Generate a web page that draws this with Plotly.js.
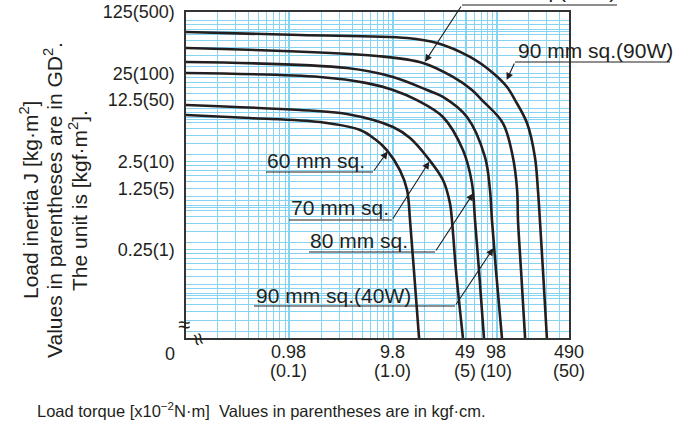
<!DOCTYPE html>
<html>
<head>
<meta charset="utf-8">
<script src="https://cdn.plot.ly/plotly-3.0.1.min.js"></script>
<style>
html,body{margin:0;padding:0;background:#fff;}
#chart{width:674px;height:423px;}
</style>
</head>
<body>
<div id="chart"></div>
<script>
// ---- data (torque x10^-2 N·m, inertia kg·m²) ----
const torque60 = [0.1, 0.41, 1.95, 4.75, 6.6, 8.6, 11.5, 13.5, 14.4, 15.7, 17.6];
const inertia60 = [8.47, 7.83, 7.05, 5.72, 4.52, 3.39, 2.01, 1.19, 0.544, 0.147, 0.025];

const torque70 = [0.1, 1.25, 3.56, 9.87, 14.4, 21.0, 29.9, 34.9, 36.5, 39.9, 46.6];
const inertia70 = [11.0, 9.65, 8.69, 6.19, 4.64, 2.83, 1.55, 0.85, 0.544, 0.147, 0.025];

const torque80 = [0.1, 1.95, 5.54, 9.87, 16.8, 29.9, 46.6, 56.9, 60.9, 66.5, 74.3];
const inertia80 = [25.4, 22.9, 19.5, 16.3, 12.5, 8.04, 3.39, 1.43, 0.544, 0.147, 0.025];

const torque90_40W = [0.1, 3.56, 9.87, 21.0, 29.9, 51.0, 75.9, 84.9, 88.7, 96.9, 110.7];
const inertia90_40W = [33.8, 28.9, 22.9, 16.3, 13.6, 8.04, 2.83, 1.19, 0.544, 0.147, 0.025];

const torque90_60W = [0.1, 6.92, 19.2, 37.4, 56.9, 71.1, 113, 141, 155, 158, 169, 185];
const inertia90_60W = [48.8, 39.6, 33.0, 22.9, 16.3, 12.5, 6.87, 2.83, 1.19, 0.544, 0.147, 0.025];

const torque90_90W = [0.1, 1.25, 13.5, 26.2, 54.5, 90.7, 124, 148, 193, 230, 246, 257, 275, 300];
const inertia90_90W = [74.1, 68.5, 63.4, 55.6, 38.6, 25.4, 17.6, 12.5, 6.87, 2.83, 1.19, 0.544, 0.147, 0.025];

const seriesNames = ['60 mm sq.', '70 mm sq.', '80 mm sq.', '90 mm sq.(40W)', '90 mm sq.(60W)', '90 mm sq.(90W)'];

// ---- tick labels ----
const torqueTicks = [0.98, 9.8, 49, 98, 490];
const torqueTickText = ['0.98', '9.8', '49', '98', '490'];
const torqueTickTextKgf = ['(0.1)', '(1.0)', '(5)', '(10)', '(50)'];
const inertiaTicks = [0.25, 1.25, 2.5, 12.5, 25, 125];
const inertiaTickText = ['0.25(1)', '1.25(5)', '2.5(10)', '12.5(50)', '25(100)', '125(500)'];

// ---- grid positions (log grid, J and GD² = 4J) ----
const xGrid = [];
for (let n = -1; n <= 2; n++) for (let k = 1; k <= 9; k++) { const v = k * Math.pow(10, n); if (v >= 0.1 && v <= 490) xGrid.push(v); }
const yGrid = [];
for (let n = -2; n <= 2; n++) for (let k = 1; k <= 9; k++) {
  const v = k * Math.pow(10, n); if (v >= 0.025 && v <= 125) yGrid.push(v);
  const g = v / 4; if (g >= 0.025 && g <= 125) yGrid.push(g);
}

const FONT = '"Liberation Sans", Arial, Helvetica, sans-serif';
const INK = '#231f20';
const GRID = '#86d3f2';

const sets = [
  [torque60, inertia60], [torque70, inertia70], [torque80, inertia80],
  [torque90_40W, inertia90_40W], [torque90_60W, inertia90_60W], [torque90_90W, inertia90_90W]
];
const traces = sets.map((s, i) => ({
  x: s[0], y: s[1], name: seriesNames[i], type: 'scatter', mode: 'lines',
  line: {color: INK, width: 2.6, shape: 'spline', smoothing: 1},
  hoverinfo: 'name'
}));

// pixel helpers for annotation placement (plot area 186..569 x 12..338)
const L = 186, T = 12, PW = 383, PH = 326;
const px = v => (v - L) / PW;
const py = v => (T + PH - v) / PH;

const labels = [
  {text: '60 mm sq.', tx: 265, ty: 160, u0: 266, u1: 373, uy: 172, tipx: 387.5, tipy: 151.5, tailx: 373, taily: 172},
  {text: '70 mm sq.', tx: 289, ty: 207, u0: 289, u1: 392, uy: 220, tipx: 429.3, tipy: 161.7, tailx: 392, taily: 220},
  {text: '80 mm sq.', tx: 308, ty: 240, u0: 309, u1: 435, uy: 252, tipx: 473.3, tipy: 193.3, tailx: 435, taily: 252},
  {text: '90 mm sq.(40W)', tx: 254, ty: 295, u0: 254, u1: 455, uy: 306, tipx: 493.3, tipy: 248.3, tailx: 455, taily: 306},
  {text: '90 mm sq.(90W)', tx: 516, ty: 50, u0: 515, u1: 670, uy: 62, tipx: 506.7, tipy: 80, tailx: 515, taily: 62}
];

const annotations = [];
const shapes = [];
labels.forEach(o => {
  annotations.push({xref: 'paper', yref: 'paper', x: px(o.tx), y: py(o.ty), xanchor: 'left', yanchor: 'middle',
    text: o.text, showarrow: false, font: {family: FONT, size: 21, color: INK}});
  shapes.push({type: 'line', xref: 'paper', yref: 'paper', x0: px(o.u0), x1: px(o.u1), y0: py(o.uy), y1: py(o.uy),
    line: {color: INK, width: 1.2}});
  annotations.push({xref: 'paper', yref: 'paper', x: px(o.tipx), y: py(o.tipy), text: '', showarrow: true,
    ax: o.tailx - o.tipx, ay: o.taily - o.tipy, arrowhead: 2, arrowsize: 1.3, arrowwidth: 1.1, arrowcolor: INK, standoff: 0});
});
// top label, mostly outside the picture
annotations.push({xref: 'paper', yref: 'paper', x: px(618), y: py(4), xanchor: 'right', yanchor: 'bottom',
  text: '90 mm sq.(60W)', showarrow: false, font: {family: FONT, size: 21, color: INK}});
shapes.push({type: 'line', xref: 'paper', yref: 'paper', x0: px(462), x1: px(617), y0: py(5), y1: py(5), line: {color: INK, width: 1.2}});
annotations.push({xref: 'paper', yref: 'paper', x: px(425), y: py(61.7), text: '', showarrow: true,
  ax: 462 - 425, ay: 5 - 61.7, arrowhead: 2, arrowsize: 1.3, arrowwidth: 1.1, arrowcolor: INK, standoff: 0});

// x tick labels: two rows (N·m and kgf·cm), placed on the axis scale
torqueTicks.forEach((v, i) => {
  annotations.push({xref: 'x', yref: 'paper', x: Math.log10(v), y: py(352),
    xanchor: 'center', yanchor: 'middle', text: torqueTickText[i], showarrow: false,
    font: {family: FONT, size: 18, color: INK}});
  annotations.push({xref: 'x', yref: 'paper', x: Math.log10(v), y: py(371),
    xanchor: 'center', yanchor: 'middle', text: torqueTickTextKgf[i], showarrow: false,
    font: {family: FONT, size: 18, color: INK}});
});

// axis titles
const yTitleLines = ['Load inertia J [kg·m<sup>2</sup>]', 'Values in parentheses are in GD<sup>2</sup>.', 'The unit is [kgf·m<sup>2</sup>].'];
const yTitleX = [29, 53, 78];
yTitleLines.forEach((t, i) => annotations.push({xref: 'paper', yref: 'paper', x: px(yTitleX[i]), y: py(200),
  xanchor: 'center', yanchor: 'middle', textangle: -90, text: t, showarrow: false, font: {family: FONT, size: 21, color: INK}}));
annotations.push({xref: 'paper', yref: 'paper', x: px(261), y: py(410), xanchor: 'center', yanchor: 'middle',
  text: 'Load torque [x10<sup>−2</sup>N·m]  Values in parentheses are in kgf·cm.', showarrow: false,
  font: {family: FONT, size: 16.5, color: INK}});
// zero and axis breaks
annotations.push({xref: 'paper', yref: 'paper', x: px(170), y: py(354), xanchor: 'center', yanchor: 'middle', text: '0', showarrow: false,
  font: {family: FONT, size: 18, color: INK}});
annotations.push({xref: 'paper', yref: 'paper', x: px(184), y: py(324), xanchor: 'center', yanchor: 'middle', text: '≈', showarrow: false,
  font: {family: FONT, size: 22, color: INK}});
annotations.push({xref: 'paper', yref: 'paper', x: px(199), y: py(339), xanchor: 'center', yanchor: 'middle', text: '≈', textangle: 70, showarrow: false,
  font: {family: FONT, size: 22, color: INK}});

const layout = {
  width: 674, height: 423,
  margin: {l: L, r: 674 - L - PW, t: T, b: 423 - T - PH, pad: 0},
  paper_bgcolor: '#ffffff', plot_bgcolor: '#ffffff',
  showlegend: false,
  font: {family: FONT, size: 18, color: INK},
  xaxis: {
    type: 'log', range: [Math.log10(0.1), Math.log10(490)],
    tickmode: 'array', tickvals: torqueTicks, showticklabels: false,
    ticks: '', showgrid: true, gridcolor: GRID, gridwidth: 1,
    minor: {tickmode: 'array', tickvals: xGrid, showgrid: true, gridcolor: GRID, gridwidth: 1, ticks: ''},
    showline: true, linecolor: '#333333', linewidth: 1.6, mirror: true, zeroline: false
  },
  yaxis: {
    type: 'log', range: [Math.log10(0.025), Math.log10(125)],
    tickmode: 'array', tickvals: inertiaTicks, ticktext: inertiaTickText,
    ticks: '', showgrid: true, gridcolor: GRID, gridwidth: 1,
    minor: {tickmode: 'array', tickvals: yGrid, showgrid: true, gridcolor: GRID, gridwidth: 1, ticks: ''},
    showline: true, linecolor: '#333333', linewidth: 1.6, mirror: true, zeroline: false,
    tickfont: {family: FONT, size: 18, color: INK}, ticklabelstandoff: 6
  },
  annotations: annotations,
  shapes: shapes
};

Plotly.newPlot('chart', traces, layout, {staticPlot: true, displayModeBar: false});
</script>
</body>
</html>
